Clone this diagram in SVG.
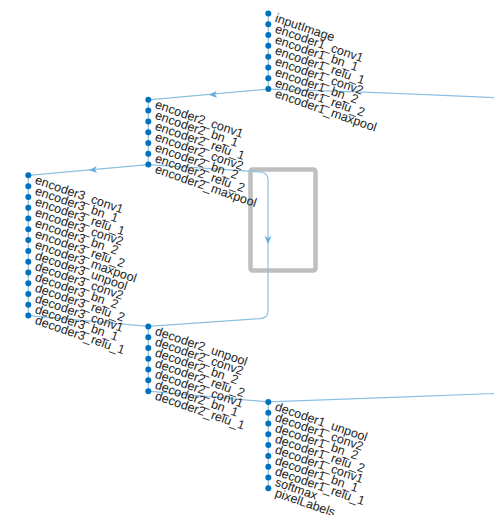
<svg xmlns="http://www.w3.org/2000/svg" width="494" height="515" viewBox="0 0 494 515">
<style>
.n{fill:#0072bd}
.t{font-family:"Liberation Sans",Arial,sans-serif;font-size:12.5px;fill:#262626}
.e{fill:none;stroke:#8cc0e3;stroke-width:1.2}
.a{fill:#6aaedb}
</style>
<defs>
<path id="ah" d="M0,0 L8,-3.5 L6,0 L8,3.5 Z"/>
</defs>
<rect x="250.5" y="169.5" width="65" height="101" rx="2" fill="none" stroke="#bfbfbf" stroke-width="4.5"/>
<g id="connectors">
<path class="e" d="M268.3,13.5 V89.03"/>
<path class="e" d="M148.3,99.82 V164.56"/>
<path class="e" d="M28.3,175.35 V315.62"/>
<path class="e" d="M148.3,326.41 V391.15"/>
<path class="e" d="M268.3,401.94 V488.26"/>
<path class="e" d="M268.3,89.03 C228,92.5 188,96.3 148.3,99.82"/>
<path class="e" d="M268.3,89.03 C340,91 420,94 494,97.7"/>
<path class="e" d="M148.3,164.56 C108,168 68,171.8 28.3,175.35"/>
<path class="e" d="M148.3,164.56 C190,167 230,170 261,172 Q268,173 268,180 V311 Q268,318 260,318.6 C220,321.5 180,324 148.3,326.41"/>
<path class="e" d="M28.3,315.62 C68,319 108,323 148.3,326.41"/>
<path class="e" d="M148.3,391.15 C188,394.6 228,398.4 268.3,401.94"/>
<path class="e" d="M268.3,401.94 C340,399 420,396.5 494,393.5"/>
<use href="#ah" class="a" transform="translate(209,95) rotate(-5.2)"/>
<use href="#ah" class="a" transform="translate(89,170.3) rotate(-5.2)"/>
<use href="#ah" class="a" transform="translate(268,244) rotate(-90)"/>
</g>
<g id="inputImage"><circle class="n" cx="268.3" cy="13.5" r="3"/><text class="t" transform="translate(274.3,21.5) rotate(19)">inputImage</text></g>
<g id="encoder1_conv1"><circle class="n" cx="268.3" cy="24.29" r="3"/><text class="t" transform="translate(274.3,32.29) rotate(19)">encoder1_conv1</text></g>
<g id="encoder1_bn_1"><circle class="n" cx="268.3" cy="35.08" r="3"/><text class="t" transform="translate(274.3,43.08) rotate(19)">encoder1_bn_1</text></g>
<g id="encoder1_relu_1"><circle class="n" cx="268.3" cy="45.87" r="3"/><text class="t" transform="translate(274.3,53.87) rotate(19)">encoder1_relu_1</text></g>
<g id="encoder1_conv2"><circle class="n" cx="268.3" cy="56.66" r="3"/><text class="t" transform="translate(274.3,64.66) rotate(19)">encoder1_conv2</text></g>
<g id="encoder1_bn_2"><circle class="n" cx="268.3" cy="67.45" r="3"/><text class="t" transform="translate(274.3,75.45) rotate(19)">encoder1_bn_2</text></g>
<g id="encoder1_relu_2"><circle class="n" cx="268.3" cy="78.24" r="3"/><text class="t" transform="translate(274.3,86.24) rotate(19)">encoder1_relu_2</text></g>
<g id="encoder1_maxpool"><circle class="n" cx="268.3" cy="89.03" r="3"/><text class="t" transform="translate(274.3,97.03) rotate(19)">encoder1_maxpool</text></g>
<g id="encoder2_conv1"><circle class="n" cx="148.3" cy="99.82" r="3"/><text class="t" transform="translate(154.3,107.82) rotate(19)">encoder2_conv1</text></g>
<g id="encoder2_bn_1"><circle class="n" cx="148.3" cy="110.61" r="3"/><text class="t" transform="translate(154.3,118.61) rotate(19)">encoder2_bn_1</text></g>
<g id="encoder2_relu_1"><circle class="n" cx="148.3" cy="121.4" r="3"/><text class="t" transform="translate(154.3,129.4) rotate(19)">encoder2_relu_1</text></g>
<g id="encoder2_conv2"><circle class="n" cx="148.3" cy="132.19" r="3"/><text class="t" transform="translate(154.3,140.19) rotate(19)">encoder2_conv2</text></g>
<g id="encoder2_bn_2"><circle class="n" cx="148.3" cy="142.98" r="3"/><text class="t" transform="translate(154.3,150.98) rotate(19)">encoder2_bn_2</text></g>
<g id="encoder2_relu_2"><circle class="n" cx="148.3" cy="153.77" r="3"/><text class="t" transform="translate(154.3,161.77) rotate(19)">encoder2_relu_2</text></g>
<g id="encoder2_maxpool"><circle class="n" cx="148.3" cy="164.56" r="3"/><text class="t" transform="translate(154.3,172.56) rotate(19)">encoder2_maxpool</text></g>
<g id="encoder3_conv1"><circle class="n" cx="28.3" cy="175.35" r="3"/><text class="t" transform="translate(34.3,183.35) rotate(19)">encoder3_conv1</text></g>
<g id="encoder3_bn_1"><circle class="n" cx="28.3" cy="186.14" r="3"/><text class="t" transform="translate(34.3,194.14) rotate(19)">encoder3_bn_1</text></g>
<g id="encoder3_relu_1"><circle class="n" cx="28.3" cy="196.93" r="3"/><text class="t" transform="translate(34.3,204.93) rotate(19)">encoder3_relu_1</text></g>
<g id="encoder3_conv2"><circle class="n" cx="28.3" cy="207.72" r="3"/><text class="t" transform="translate(34.3,215.72) rotate(19)">encoder3_conv2</text></g>
<g id="encoder3_bn_2"><circle class="n" cx="28.3" cy="218.51" r="3"/><text class="t" transform="translate(34.3,226.51) rotate(19)">encoder3_bn_2</text></g>
<g id="encoder3_relu_2"><circle class="n" cx="28.3" cy="229.3" r="3"/><text class="t" transform="translate(34.3,237.3) rotate(19)">encoder3_relu_2</text></g>
<g id="encoder3_maxpool"><circle class="n" cx="28.3" cy="240.09" r="3"/><text class="t" transform="translate(34.3,248.09) rotate(19)">encoder3_maxpool</text></g>
<g id="decoder3_unpool"><circle class="n" cx="28.3" cy="250.88" r="3"/><text class="t" transform="translate(34.3,258.88) rotate(19)">decoder3_unpool</text></g>
<g id="decoder3_conv2"><circle class="n" cx="28.3" cy="261.67" r="3"/><text class="t" transform="translate(34.3,269.67) rotate(19)">decoder3_conv2</text></g>
<g id="decoder3_bn_2"><circle class="n" cx="28.3" cy="272.46" r="3"/><text class="t" transform="translate(34.3,280.46) rotate(19)">decoder3_bn_2</text></g>
<g id="decoder3_relu_2"><circle class="n" cx="28.3" cy="283.25" r="3"/><text class="t" transform="translate(34.3,291.25) rotate(19)">decoder3_relu_2</text></g>
<g id="decoder3_conv1"><circle class="n" cx="28.3" cy="294.04" r="3"/><text class="t" transform="translate(34.3,302.04) rotate(19)">decoder3_conv1</text></g>
<g id="decoder3_bn_1"><circle class="n" cx="28.3" cy="304.83" r="3"/><text class="t" transform="translate(34.3,312.83) rotate(19)">decoder3_bn_1</text></g>
<g id="decoder3_relu_1"><circle class="n" cx="28.3" cy="315.62" r="3"/><text class="t" transform="translate(34.3,323.62) rotate(19)">decoder3_relu_1</text></g>
<g id="decoder2_unpool"><circle class="n" cx="148.3" cy="326.41" r="3"/><text class="t" transform="translate(154.3,334.41) rotate(19)">decoder2_unpool</text></g>
<g id="decoder2_conv2"><circle class="n" cx="148.3" cy="337.2" r="3"/><text class="t" transform="translate(154.3,345.2) rotate(19)">decoder2_conv2</text></g>
<g id="decoder2_bn_2"><circle class="n" cx="148.3" cy="347.99" r="3"/><text class="t" transform="translate(154.3,355.99) rotate(19)">decoder2_bn_2</text></g>
<g id="decoder2_relu_2"><circle class="n" cx="148.3" cy="358.78" r="3"/><text class="t" transform="translate(154.3,366.78) rotate(19)">decoder2_relu_2</text></g>
<g id="decoder2_conv1"><circle class="n" cx="148.3" cy="369.57" r="3"/><text class="t" transform="translate(154.3,377.57) rotate(19)">decoder2_conv1</text></g>
<g id="decoder2_bn_1"><circle class="n" cx="148.3" cy="380.36" r="3"/><text class="t" transform="translate(154.3,388.36) rotate(19)">decoder2_bn_1</text></g>
<g id="decoder2_relu_1"><circle class="n" cx="148.3" cy="391.15" r="3"/><text class="t" transform="translate(154.3,399.15) rotate(19)">decoder2_relu_1</text></g>
<g id="decoder1_unpool"><circle class="n" cx="268.3" cy="401.94" r="3"/><text class="t" transform="translate(274.3,409.94) rotate(19)">decoder1_unpool</text></g>
<g id="decoder1_conv2"><circle class="n" cx="268.3" cy="412.73" r="3"/><text class="t" transform="translate(274.3,420.73) rotate(19)">decoder1_conv2</text></g>
<g id="decoder1_bn_2"><circle class="n" cx="268.3" cy="423.52" r="3"/><text class="t" transform="translate(274.3,431.52) rotate(19)">decoder1_bn_2</text></g>
<g id="decoder1_relu_2"><circle class="n" cx="268.3" cy="434.31" r="3"/><text class="t" transform="translate(274.3,442.31) rotate(19)">decoder1_relu_2</text></g>
<g id="decoder1_conv1"><circle class="n" cx="268.3" cy="445.1" r="3"/><text class="t" transform="translate(274.3,453.1) rotate(19)">decoder1_conv1</text></g>
<g id="decoder1_bn_1"><circle class="n" cx="268.3" cy="455.89" r="3"/><text class="t" transform="translate(274.3,463.89) rotate(19)">decoder1_bn_1</text></g>
<g id="decoder1_relu_1"><circle class="n" cx="268.3" cy="466.68" r="3"/><text class="t" transform="translate(274.3,474.68) rotate(19)">decoder1_relu_1</text></g>
<g id="softmax"><circle class="n" cx="268.3" cy="477.47" r="3"/><text class="t" transform="translate(274.3,485.47) rotate(19)">softmax</text></g>
<g id="pixelLabels"><circle class="n" cx="268.3" cy="488.26" r="3"/><text class="t" transform="translate(274.3,496.26) rotate(19)">pixelLabels</text></g>
</svg>
